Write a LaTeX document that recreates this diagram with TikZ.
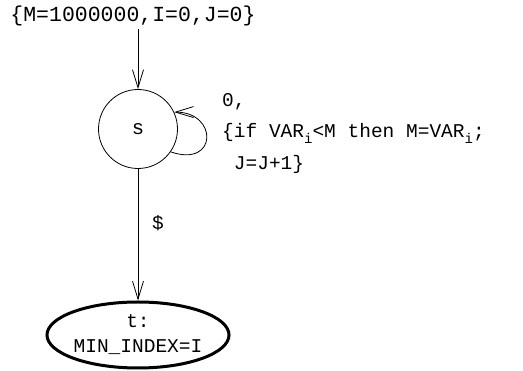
\documentclass[tikz,border=0pt]{standalone}
\usepackage{fontspec}
\setmonofont{Liberation Mono}
\usetikzlibrary{arrows.meta,shapes.geometric}
\newcommand{\sub}[1]{\raisebox{-0.5ex}{\fontsize{14}{14}\selectfont #1}}
\begin{document}
\begin{tikzpicture}[x=1pt,y=-1pt,
  lbl/.style={font=\ttfamily\fontsize{19.5}{24}\selectfont, inner sep=0pt},
  toplbl/.style={font=\ttfamily\fontsize{21.5}{24}\selectfont, inner sep=0pt},
  arr/.style={line width=0.8pt, -{Straight Barb[length=18pt,width=11pt,line width=0.8pt]}},
  state/.style={circle, draw, line width=0.8pt, minimum size=79pt, inner sep=0pt,
     font=\ttfamily\fontsize{20.5}{24}\selectfont},
  final/.style={ellipse, draw, line width=3pt, minimum width=178pt, minimum height=66pt,
     inner sep=0pt, align=center, font=\ttfamily\fontsize{19.5}{25}\selectfont}]
\useasboundingbox (0,0) rectangle (523,371);
\node[toplbl, anchor=base] (init) at (133,22) {\{M=1000000,I=0,J=0\}};
\coordinate (start) at (138,29);
\node[state] (s) at (138,129) {s};
\node[final] (t) at (138,335) {t:\\MIN\_INDEX=I};
\draw[arr] (start) -- (s);
\draw[arr] (s) -- (t);
\draw[arr] (s.-35) .. controls (218,168) and (218,112) .. (s.25);
\node[lbl, anchor=base] (dollar) at (158,230) {\$};
\node[lbl, anchor=base west] (l1) at (222,107) {0,};
\node[lbl, anchor=base west] (l2) at (222,138) {\{if VAR\sub{i}<M then M=VAR\sub{i};};
\node[lbl, anchor=base west] (l3) at (222,170) {\ J=J+1\}};
\end{tikzpicture}
\end{document}
